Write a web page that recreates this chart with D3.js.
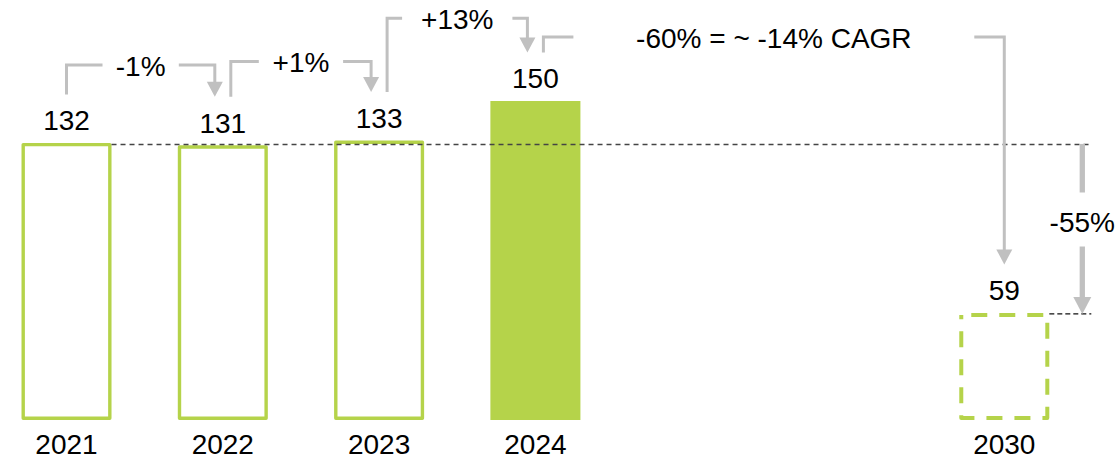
<!DOCTYPE html>
<html>
<head>
<meta charset="utf-8">
<script src="https://cdn.jsdelivr.net/npm/d3@7"></script>
<style>
  html, body { margin: 0; padding: 0; background: #fff; }
  svg { display: block; }
  text { font-family: "Liberation Sans", Arial, Helvetica, sans-serif; fill: #000; }
</style>
</head>
<body>
<svg id="chart" width="1118" height="460"></svg>
<script>
// Yearly totals, with a 2030 target
const years = ["2021", "2022", "2023", "2024", "2030"];
const values = [132, 131, 133, 150, 59];
// Empty slots on the x axis between the last actual year and the target year
const spacerSlots = ["2025–2026", "2027–2029"];

// Change callouts between consecutive bars: [from index, to index]
const changePairs = [[0, 1], [1, 2], [2, 3], [3, 4]];
const changeLabels = ["-1%", "+1%", "+13%", "-60% = ~ -14% CAGR"];
// Drop from the 2021 level to the target
const dropLabel = "-55%";
const baseYearIndex = 0;

const W = 1118, H = 460;
const green = "#b5d34a";
const grey = "#c0c0c0";

const svg = d3.select("#chart");

const slots = years.slice(0, 4).concat(spacerSlots, years.slice(4));
const x = d3.scaleBand()
  .domain(slots)
  .range([21.5, 1049.3])
  .paddingInner(0.424)
  .paddingOuter(0);

const y = d3.scaleLinear().domain([13, 150]).range([420, 101]);
const floorY = y.range()[0];

const bars = years.map((yr, i) => ({ year: yr, value: values[i], i }));
const styleOf = d => d.year === "2024" ? "solid" : (d.year === "2030" ? "dashed" : "outline");
const strokeW = { solid: 0, outline: 3.4, dashed: 4 };

// Bars (outer edges follow the scales; strokes are inset)
svg.append("g").selectAll("rect")
  .data(bars)
  .join("rect")
  .attr("x", d => x(d.year) + strokeW[styleOf(d)] / 2)
  .attr("y", d => y(d.value) + strokeW[styleOf(d)] / 2)
  .attr("width", d => x.bandwidth() - strokeW[styleOf(d)])
  .attr("height", d => floorY - y(d.value) - strokeW[styleOf(d)])
  .attr("fill", d => styleOf(d) === "solid" ? green : "none")
  .attr("stroke", d => styleOf(d) === "solid" ? "none" : green)
  .attr("stroke-width", d => strokeW[styleOf(d)])
  .attr("stroke-dasharray", d => styleOf(d) === "dashed" ? "16 12" : null)
  .attr("stroke-dashoffset", d => styleOf(d) === "dashed" ? -10 : null)
  .attr("stroke-linejoin", "round");

// Dashed reference lines at the 2021 level and the target level
const base = bars[baseYearIndex];
const target = bars[bars.length - 1];
const refRight = x(target.year) + x.bandwidth() + 42;
svg.append("line")
  .attr("x1", x(base.year) + x.bandwidth()).attr("x2", refRight)
  .attr("y1", y(base.value) + 1.5).attr("y2", y(base.value) + 1.5)
  .attr("stroke", "#444").attr("stroke-width", 1.5)
  .attr("stroke-dasharray", "5 4");
svg.append("line")
  .attr("x1", x(target.year) + x.bandwidth()).attr("x2", refRight)
  .attr("y1", y(target.value) + 1).attr("y2", y(target.value) + 1)
  .attr("stroke", "#111").attr("stroke-width", 1.3)
  .attr("stroke-dasharray", "5 3");

// Value labels above bars
const labelGap = 12.7;
svg.append("g").selectAll("text")
  .data(bars)
  .join("text")
  .attr("x", d => x(d.year) + x.bandwidth() / 2)
  .attr("y", d => y(d.value) - labelGap)
  .attr("text-anchor", "middle")
  .attr("font-size", 28)
  .text(d => d.value);

// Year labels
svg.append("g").selectAll("text")
  .data(bars)
  .join("text")
  .attr("x", d => x(d.year) + x.bandwidth() / 2)
  .attr("y", 454)
  .attr("text-anchor", "middle")
  .attr("font-size", 28)
  .text(d => d.year);

// Change callouts: elbow lines from one bar label to the next with an arrowhead
const callLevel = [65, 61.5, 18.3, 37];
const callArm = [36, 28, 15, 30];
const startShift = [0, 8, 8, 8];
const endShift = [-8, -8, -8, 0];
const endAbove = 48.5;
const headW = 16, headH = 15;

const callouts = svg.append("g");
changePairs.forEach(([a, b], k) => {
  const A = bars[a], B = bars[b];
  const xs = x(A.year) + x.bandwidth() / 2 + startShift[k];
  const xe = x(B.year) + x.bandwidth() / 2 + endShift[k];
  const ys = y(A.value) - endAbove;
  const ye = y(B.value) - endAbove;
  const lv = callLevel[k];
  callouts.append("path")
    .attr("d", `M${xs},${ys}V${lv}H${xs + callArm[k]}`)
    .attr("fill", "none").attr("stroke", grey).attr("stroke-width", 3);
  callouts.append("path")
    .attr("d", `M${xe - callArm[k]},${lv}H${xe}V${ye - headH + 1}`)
    .attr("fill", "none").attr("stroke", grey).attr("stroke-width", 3);
  callouts.append("path")
    .attr("d", `M${xe - headW / 2},${ye - headH}L${xe + headW / 2},${ye - headH}L${xe},${ye}Z`)
    .attr("fill", grey);
  callouts.append("text")
    .attr("x", (xs + xe) / 2)
    .attr("y", lv + 10.5)
    .attr("text-anchor", "middle")
    .attr("font-size", 28)
    .text(changeLabels[k]);
});

// Drop arrow between the two reference lines
const dx = x(target.year) + x.bandwidth() + 33;
const yTop = y(base.value) + 1;
const yBot = y(target.value) + 1;
const dropMid = 221.5;
const dropHeadW = 18, dropHeadH = 17;
svg.append("line")
  .attr("x1", dx).attr("x2", dx)
  .attr("y1", yTop).attr("y2", dropMid - 29)
  .attr("stroke", grey).attr("stroke-width", 5.3);
svg.append("line")
  .attr("x1", dx).attr("x2", dx)
  .attr("y1", dropMid + 25).attr("y2", yBot - dropHeadH + 1)
  .attr("stroke", grey).attr("stroke-width", 5.3);
svg.append("path")
  .attr("d", `M${dx - dropHeadW / 2},${yBot - dropHeadH}L${dx + dropHeadW / 2},${yBot - dropHeadH}L${dx},${yBot}Z`)
  .attr("fill", grey);
svg.append("text")
  .attr("x", dx)
  .attr("y", dropMid + 10)
  .attr("text-anchor", "middle")
  .attr("font-size", 28)
  .text(dropLabel);
</script>
</body>
</html>
